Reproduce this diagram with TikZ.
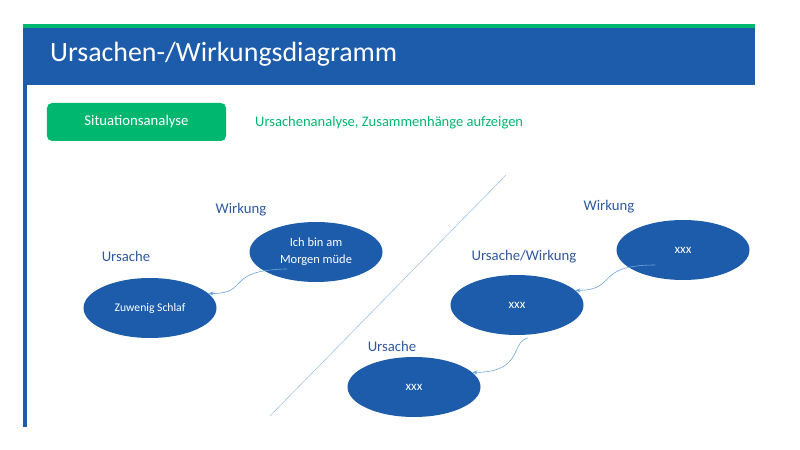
\documentclass[tikz,border=0pt]{standalone}
\usepackage{fontspec}
\setmainfont{Carlito}
\usetikzlibrary{arrows.meta,positioning,calc,shapes.geometric}
\definecolor{uwbar}{RGB}{29,92,170}
\definecolor{uwgreen}{RGB}{0,183,112}
\definecolor{uwell}{RGB}{29,92,170}
\definecolor{uwlbl}{RGB}{46,88,160}
\definecolor{uwlink}{RGB}{110,165,220}
\definecolor{uwdiag}{RGB}{160,198,232}
\tikzset{
  ell/.style={
    ellipse, fill=uwell, draw=none, text=white, align=center,
    minimum width=133bp, minimum height=60bp, inner sep=0pt,
    font=\fontsize{13}{15}\selectfont
  },
  lbl/.style={text=uwlbl, inner sep=0pt, anchor=base, font=\fontsize{14.8}{17}\selectfont},
  lnk/.style={-{Stealth[length=5bp,width=4bp]}, draw=uwlink, line width=0.6pt},
  every picture/.append style={line join=round}
}
\begin{document}
\begin{tikzpicture}[x=1bp,y=-1bp]
  \useasboundingbox (0,0) rectangle (800,450);
  % header
  \fill[uwgreen] (23,24) rectangle (755,28);
  \fill[uwbar] (23,28) rectangle (755,85);
  \fill[uwbar] (23,85) rectangle (27,427);
  \node[text=white, anchor=base west, inner sep=0pt, font=\fontsize{28}{32}\selectfont]
    (title) at (50,62) {Ursachen-/Wirkungsdiagramm};
  \node[fill=uwgreen, text=white, rounded corners=5bp, minimum width=179bp, minimum height=38bp,
    inner sep=0pt, font=\fontsize{14.8}{17}\selectfont] (situ) at (136.5,122) {Situationsanalyse};
  \node[text=uwgreen, anchor=base west, inner sep=0pt, font=\fontsize{14.6}{17}\selectfont]
    (sub) at (255,127) {Ursachenanalyse, Zusammenhänge aufzeigen};
  % divider
  \coordinate (dtop) at (506,175);
  \coordinate (dbot) at (270,416);
  \draw[uwdiag, line width=0.6pt] (dtop) -- (dbot);
  % left example
  \node[ell, font=\fontsize{12.5}{17.5}\selectfont] (wirkA) at (316,252) {Ich bin am\\Morgen müde};
  \node[ell, font=\fontsize{11.7}{14}\selectfont] (ursA) at (150,308) {Zuwenig Schlaf};
  \node[lbl] (lwA) at (241,214) {Wirkung};
  \node[lbl] (luA) at (126,262) {Ursache};
  % right chain
  \node[ell] (wirkB) at (683,250) {xxx};
  \node[ell] (uwB) at (517,305) {xxx};
  \node[ell] (ursB) at (414,387) {xxx};
  \node[lbl] (lwB) at (609,211) {Wirkung};
  \node[lbl] (luwB) at (524,261) {Ursache/Wirkung};
  \node[lbl] (luB) at (392,352) {Ursache};
  % links
  \draw[lnk] ($(wirkA.center)+(-29,17)$) .. controls (224,270) and (250,294) .. (ursA.14);
  \draw[lnk] ($(wirkB.center)+(-28,15)$) .. controls (594,265) and (618,290) .. (uwB.14);
  \draw[lnk] ($(uwB.center)+(11,33)$) .. controls (510,342) and (524,372) .. (ursB.14);
\end{tikzpicture}
\end{document}
